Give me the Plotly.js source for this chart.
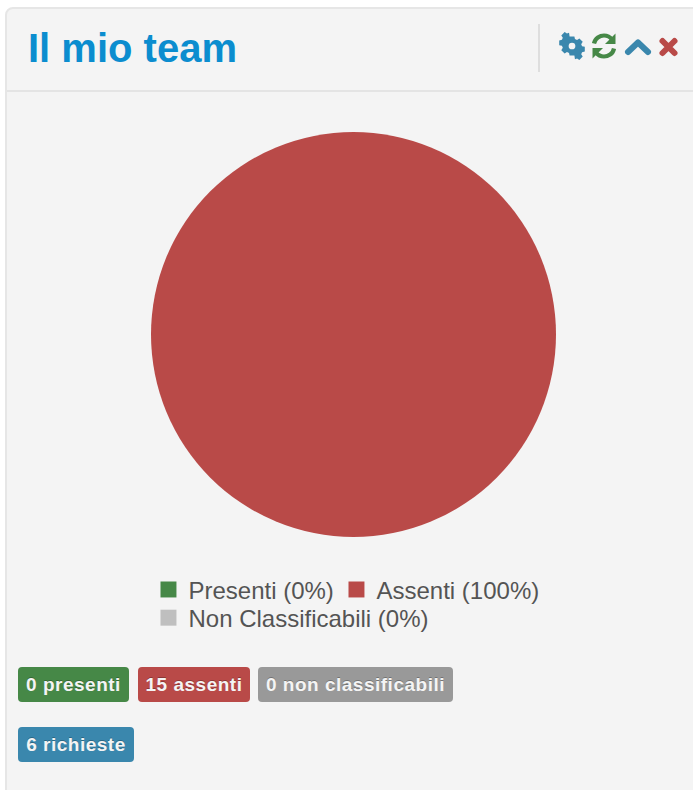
<!DOCTYPE html>
<html>
<head>
<meta charset="utf-8">
<script src="https://cdn.plot.ly/plotly-3.0.1.min.js"></script>
<style>
  html, body { margin: 0; padding: 0; background: #fff; overflow: hidden; }
  #page { position: relative; width: 693px; height: 790px; font-family: "Liberation Sans", Arial, sans-serif; overflow: hidden; }
  #panel { position: absolute; left: 5px; top: 7px; width: 700px; height: 800px; box-sizing: border-box;
           background: #f4f4f4; border: 2px solid #e6e6e6; border-radius: 8px; }
  #divider { position: absolute; left: 7px; top: 90px; width: 686px; height: 2px; background: #e4e4e4; }
  #vsep { position: absolute; left: 538px; top: 24px; width: 2px; height: 48px; background: #dedede; }
  #heading { position: absolute; left: 28px; top: 25px; font-size: 40px; line-height: 46px; font-weight: bold; color: #0b8dcf; }
  #icons { position: absolute; left: 558px; top: 32px; }
  #chart { position: absolute; left: 143px; top: 122px; width: 421px; height: 540px; }
  .badge { position: absolute; height: 35px; line-height: 35px; border-radius: 4px; color: #f4f4f4; text-align: center;
           font-size: 19px; font-weight: bold; letter-spacing: 0.5px; white-space: nowrap; text-shadow: 0 -1px 0 rgba(0,0,0,.25); }
  #chart .legend .scrollbox { clip-path: none !important; }
</style>
</head>
<body>
<div id="page">
  <div id="panel"></div>
  <div id="divider"></div>
  <div id="vsep"></div>
  <div id="heading"></div>
  <svg id="icons" width="130" height="30" viewBox="0 0 130 30">
    <!-- settings -->
    <g transform="translate(14 14)" fill="#3a87ad">
      <path fill-rule="evenodd" d="M-3-12h6l.7 3.4 2.6 1.1 2.9-1.9 4.2 4.2-1.9 2.9 1.1 2.6 3.4.7v6l-3.4.7-1.1 2.6 1.9 2.9-4.2 4.2-2.9-1.9-2.6 1.1L3 12h-6l-.7-3.4-2.6-1.1-2.9 1.9-4.2-4.2 1.9-2.9-1.1-2.6-3.4-.7v-6l3.4-.7 1.1-2.6-1.9-2.9 4.2-4.2 2.9 1.9 2.6-1.1zM0-4.2a4.2 4.2 0 1 0 0 8.4a4.2 4.2 0 1 0 0-8.4z" transform="scale(.8)"/>
    </g>
    <!-- refresh -->
    <g transform="translate(46 14)" fill="none" stroke="#468847" stroke-width="4.2">
      <path d="M-10-2.5C-9-8-4-10.5 0-10.5c4 0 6.5 2 8 4"/>
      <path d="M10 2.5C9 8 4 10.5 0 10.5c-4 0-6.500-2-8-4"/>
      <path d="M11.5-12.5V-2H1z" fill="#468847" stroke="none"/>
      <path d="M-11.5 12.5V2H-1z" fill="#468847" stroke="none"/>
    </g>
    <!-- collapse -->
    <path d="M70 20l10-9.500 10 9.500" fill="none" stroke="#3a87ad" stroke-width="6" stroke-linecap="round" stroke-linejoin="round"/>
    <!-- close -->
    <path d="M104.500 9l12 12M116.500 9l-12 12" fill="none" stroke="#b94a48" stroke-width="6" stroke-linecap="round"/>
  </svg>
  <div id="chart"></div>
</div>
<script>
// Team attendance for the current period
const categories = ["Presenti (0%)", "Assenti (100%)", "Non Classificabili (0%)"];
const headcount = [0, 15, 0];
const sliceColors = ["#468847", "#b94a48", "#bfbfbf"];

const panelTitle = "Il mio team";
const badgeLabels = ["0 presenti", "15 assenti", "0 non classificabili", "6 richieste"];
const badgeColors = ["#468847", "#b94a48", "#999999", "#3a87ad"];
const badgeLeft = [18, 138, 258, 18];
const badgeTop = [667, 667, 667, 727];
const badgeWidth = [111, 112, 195, 116];

document.getElementById("heading").textContent = panelTitle;

const page = document.getElementById("page");
badgeLabels.forEach((label, i) => {
  const el = document.createElement("div");
  el.className = "badge";
  el.textContent = label;
  el.style.left = badgeLeft[i] + "px";
  el.style.top = badgeTop[i] + "px";
  el.style.width = badgeWidth[i] + "px";
  el.style.background = badgeColors[i];
  page.appendChild(el);
});

Plotly.newPlot("chart", [{
  type: "pie",
  labels: categories,
  values: headcount,
  sort: false,
  textinfo: "none",
  hoverinfo: "label+value",
  marker: { colors: sliceColors, line: { width: 0 } }
}], {
  width: 421,
  height: 540,
  paper_bgcolor: "rgba(0,0,0,0)",
  plot_bgcolor: "rgba(0,0,0,0)",
  margin: { l: 0, r: 0, t: 10, b: 125, autoexpand: false },
  showlegend: true,
  legend: {
    orientation: "h",
    x: 0.013,
    xanchor: "left",
    y: -0.075,
    yanchor: "top",
    entrywidth: 143,
    entrywidthmode: "pixels",
    font: { family: "Liberation Sans, Arial, sans-serif", size: 24, color: "#545454" },
    bgcolor: "rgba(0,0,0,0)",
    itemclick: false,
    itemdoubleclick: false
  }
}, { displayModeBar: false }).then(() => {
  // Slightly larger colour keys beside the legend entries
  document.querySelectorAll("#chart .legendpoints path").forEach(p => {
    const t = p.getAttribute("transform") || "";
    p.setAttribute("transform", t + " scale(1.33)");
  });
  // Tighter line spacing between the two legend rows
  const rows = document.querySelectorAll("#chart .legend .traces");
  const last = rows[rows.length - 1];
  const m = /translate\(([-\d.]+),\s*([-\d.]+)\)/.exec(last.getAttribute("transform"));
  if (m) last.setAttribute("transform", `translate(${m[1]},${parseFloat(m[2]) - 6})`);
});
</script>
</body>
</html>
